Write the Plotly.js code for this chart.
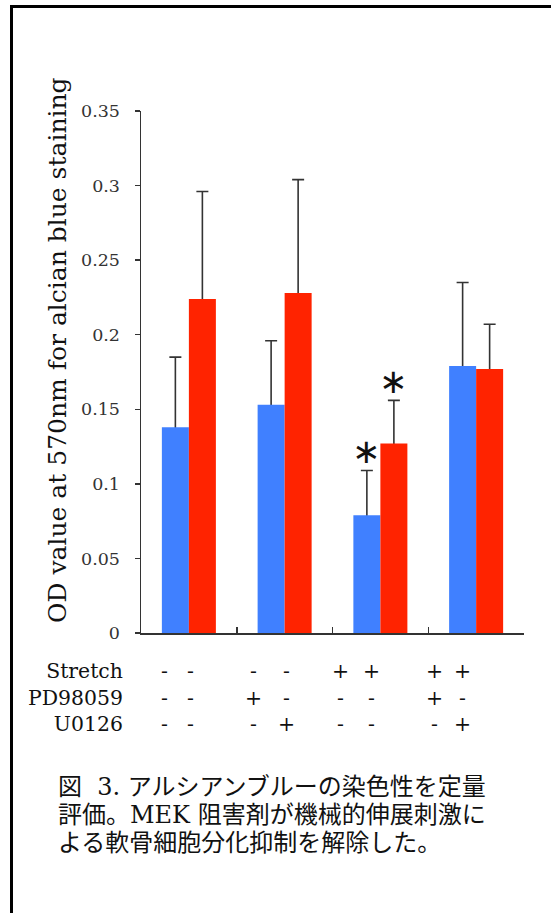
<!DOCTYPE html>
<html>
<head>
<meta charset="utf-8">
<script src="https://cdn.plot.ly/plotly-3.0.1.min.js"></script>
<style>
html,body{margin:0;padding:0;background:#fff;}
#chart{width:551px;height:913px;}
</style>
</head>
<body>
<div id="chart"></div>
<script>
// ---- data ----
const groups = ["Control", "Inhibitor", "Stretch", "Stretch + inhibitor"];
const blueName = "PD98059 series";
const redName = "U0126 series";
const blueValues = [0.138, 0.153, 0.079, 0.179];
const blueErrors = [0.047, 0.043, 0.030, 0.056];
const redValues = [0.224, 0.228, 0.127, 0.177];
const redErrors = [0.072, 0.076, 0.029, 0.030];
const yTickValues = [0, 0.05, 0.1, 0.15, 0.2, 0.25, 0.3, 0.35];
const yTickLabels = ["0", "0.05", "0.1", "0.15", "0.2", "0.25", "0.3", "0.35"];
const yTitle = "OD value at 570nm for alcian blue staining";
const rowLabels = ["Stretch", "PD98059", "U0126"];
const stretchRow = ["-", "-", "-", "-", "+", "+", "+", "+"];
const pd98059Row = ["-", "-", "+", "-", "-", "-", "+", "-"];
const u0126Row = ["-", "-", "-", "+", "-", "-", "-", "+"];
const significantBlue = [false, false, true, false];
const significantRed = [false, false, true, false];
const captionLines = [
  "図  3. アルシアンブルーの染色性を定量",
  "評価。MEK 阻害剤が機械的伸展刺激に",
  "よる軟骨細胞分化抑制を解除した。"
];

// ---- layout geometry ----
const W = 551, H = 913;
const M = {l: 141, r: 27, t: 111, b: 280};
const PW = W - M.l - M.r, PH = H - M.t - M.b;
const px2x = px => (px - M.l) / PW;
const py2y = py => (H - M.b - py) / PH;
const BARGAP = 0.436;
const half = (1 - BARGAP) / 4;

const serif = "DejaVu Serif";
const blueColor = "#4080ff";
const redColor = "#ff2300";
const errColor = "#333333";

// error bars live on transparent twin bars drawn first; the visible bars
// drawn afterwards hide the lower part, so only the upward whisker shows
function errTrace(name, vals, errs, og) {
  return {
    type: "bar", name: name + " error", x: groups, y: vals, offsetgroup: og,
    marker: {color: "rgba(0,0,0,0)", line: {width: 0}}, hoverinfo: "skip",
    error_y: {type: "data", symmetric: false, array: errs, arrayminus: vals,
              color: errColor, thickness: 1.6, width: 6}
  };
}
const traces = [
  errTrace(blueName, blueValues, blueErrors, "a"),
  errTrace(redName, redValues, redErrors, "b"),
  {type: "bar", name: blueName, x: groups, y: blueValues, offsetgroup: "a",
   marker: {color: blueColor, line: {width: 0}}},
  {type: "bar", name: redName, x: groups, y: redValues, offsetgroup: "b",
   marker: {color: redColor, line: {width: 0}}}
];

const annotations = [];
// y-axis title
annotations.push({
  xref: "paper", yref: "paper", x: px2x(57), y: py2y(350),
  text: yTitle, textangle: -90, showarrow: false,
  xanchor: "center", yanchor: "middle",
  font: {family: serif, size: 25, color: "#111"}
});
// asterisks
[[significantBlue, blueValues, blueErrors, -half],
 [significantRed, redValues, redErrors, half]].forEach(([sig, vals, errs, off]) => {
  sig.forEach((s, i) => {
    if (!s) return;
    annotations.push({
      xref: "x", yref: "y", x: i + off, y: vals[i] + errs[i],
      text: "∗", showarrow: false, xanchor: "center", yanchor: "bottom",
      yshift: -3, font: {family: "DejaVu Sans", size: 34, color: "#111"}
    });
  });
});
// condition table (one multi-line text per column)
const tableFont = {family: serif, size: 20.4, color: "#111"};
const signCols = [164, 190, 253, 286, 340, 371, 434, 462];
const rows = [stretchRow, pd98059Row, u0126Row];
const tableMidY = 697;
annotations.push({
  xref: "paper", yref: "paper", x: px2x(125), y: py2y(tableMidY),
  text: rowLabels.join("<br>"), showarrow: false, align: "right",
  xanchor: "right", yanchor: "middle", font: tableFont
});
signCols.forEach((cx, c) => {
  annotations.push({
    xref: "paper", yref: "paper", x: px2x(cx), y: py2y(tableMidY),
    text: rows.map(r => r[c]).join("<br>"), showarrow: false, align: "center",
    xanchor: "center", yanchor: "middle", font: tableFont
  });
});
// caption: serif Latin (as in the figure) with Japanese glyphs from Noto CJK
const capY = [787, 815, 843];
captionLines.forEach((t, i) => {
  annotations.push({
    xref: "paper", yref: "paper", x: px2x(56), y: py2y(capY[i]),
    text: t, showarrow: false, align: "left",
    xanchor: "left", yanchor: "middle",
    font: {family: "DejaVu Serif, Noto Sans CJK JP", size: 24, color: "#111"}
  });
});

const shapes = [
  {type: "line", xref: "paper", yref: "paper", x0: px2x(11.5), x1: px2x(11.5),
   y0: py2y(5), y1: py2y(913), line: {color: "#000", width: 3}},
  {type: "line", xref: "paper", yref: "paper", x0: px2x(10), x1: px2x(551),
   y0: py2y(6.5), y1: py2y(6.5), line: {color: "#000", width: 3}}
];

const layout = {
  width: W, height: H,
  margin: M,
  paper_bgcolor: "#fff", plot_bgcolor: "#fff",
  showlegend: false,
  barmode: "group", bargap: BARGAP, bargroupgap: 0,
  xaxis: {
    type: "category", showticklabels: false, showgrid: false, zeroline: false,
    showline: true, linecolor: "#333", linewidth: 1.5,
    ticks: "inside", tickson: "boundaries", ticklen: 6, tickwidth: 1.5, tickcolor: "#333",
    fixedrange: true
  },
  yaxis: {
    range: [0, 0.35], tickvals: yTickValues, ticktext: yTickLabels,
    showgrid: false, zeroline: false, showline: true, linecolor: "#333", linewidth: 1.5,
    ticks: "outside", ticklen: 5, tickwidth: 1.5, tickcolor: "#333",
    ticklabelstandoff: 11,
    tickfont: {family: serif, size: 17.5, color: "#333"},
    fixedrange: true
  },
  annotations: annotations,
  shapes: shapes
};

Plotly.newPlot("chart", traces, layout, {displayModeBar: false, staticPlot: true});
</script>
</body>
</html>
